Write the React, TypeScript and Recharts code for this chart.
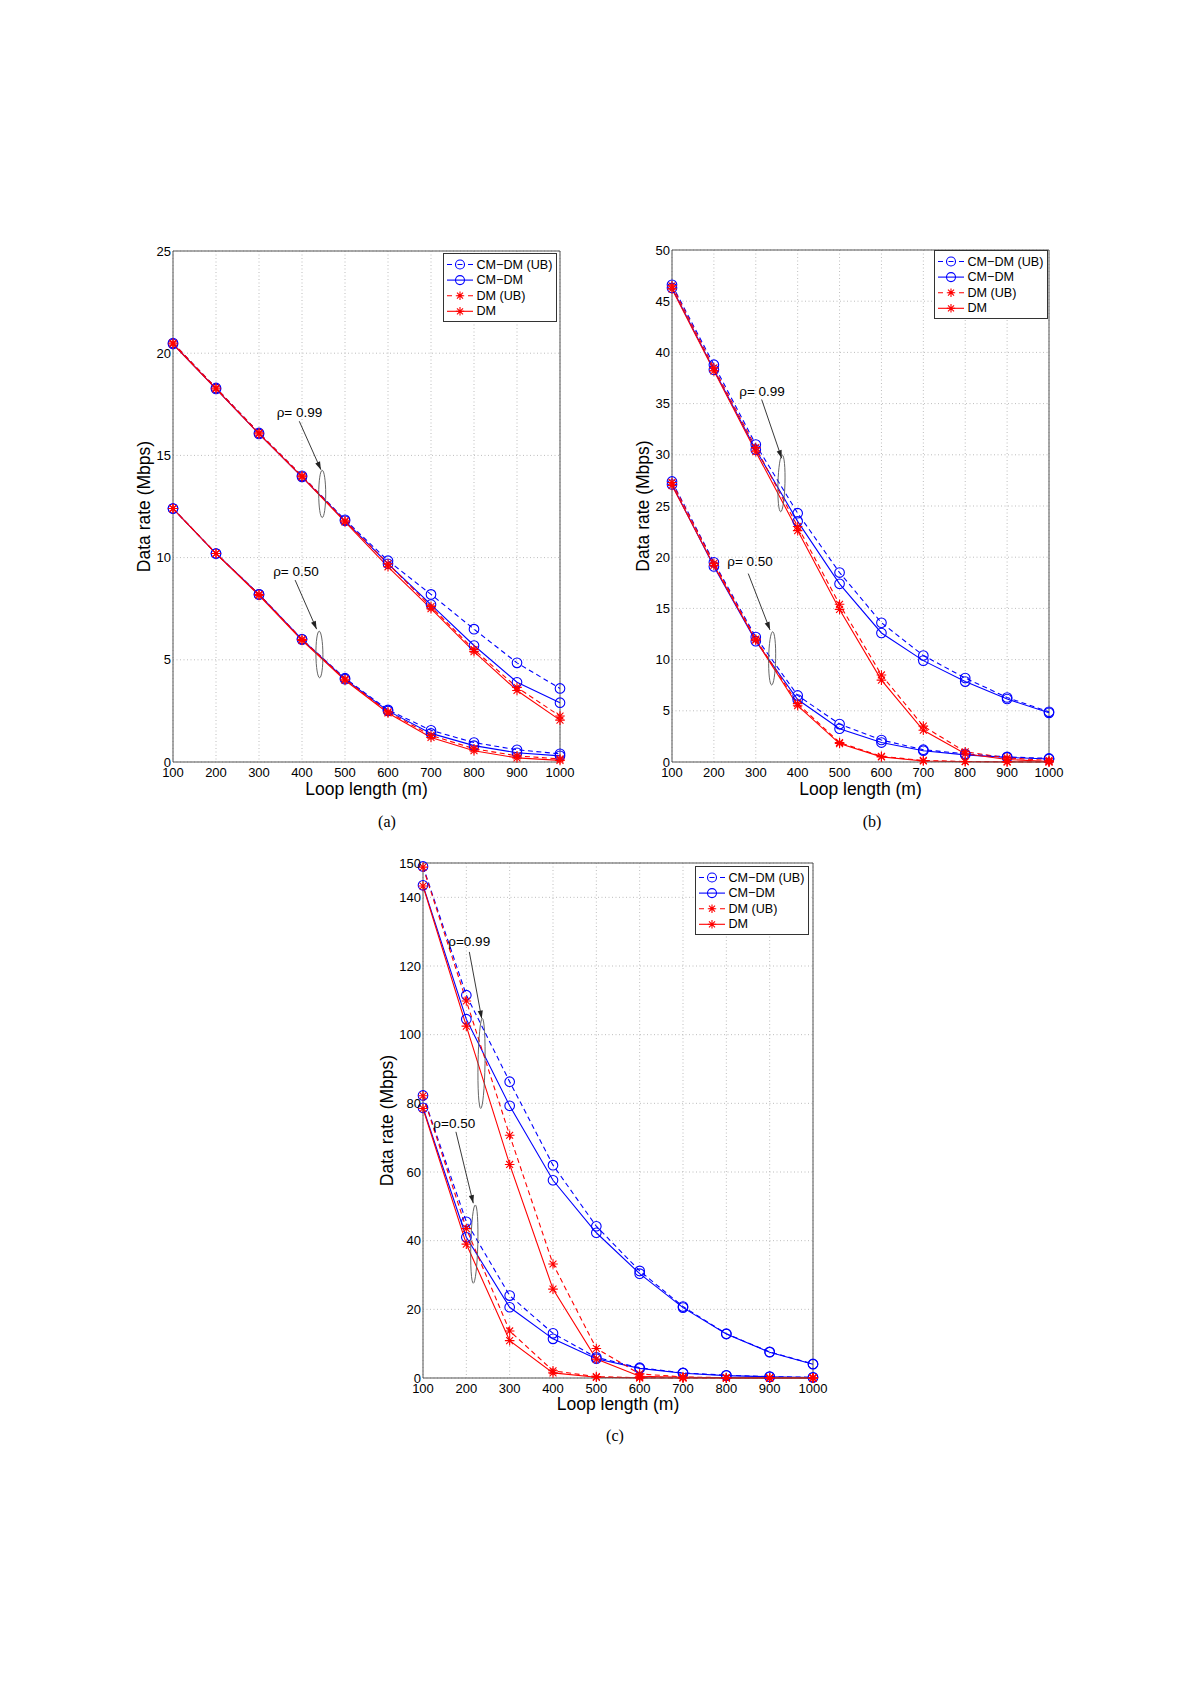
import { LineChart, Line, XAxis, YAxis, CartesianGrid, Legend, ReferenceLine, ReferenceDot } from 'recharts';

const BLUE = '#0000ff';
const RED = '#ff0000';
const FONT = '"Liberation Sans", Arial, sans-serif';

const loopLength = [100, 200, 300, 400, 500, 600, 700, 800, 900, 1000];

// (a)
const aCmdmUb99 = [20.5, 18.3, 16.1, 14.0, 11.85, 9.85, 8.2, 6.5, 4.85, 3.6];
const aCmdm99 = [20.45, 18.25, 16.05, 13.95, 11.8, 9.7, 7.7, 5.7, 3.9, 2.9];
const aDmUb99 = [20.5, 18.3, 16.1, 14.0, 11.8, 9.7, 7.6, 5.5, 3.65, 2.25];
const aDm99 = [20.45, 18.25, 16.05, 13.95, 11.75, 9.55, 7.5, 5.4, 3.5, 2.05];
const aCmdmUb50 = [12.4, 10.2, 8.2, 6.0, 4.1, 2.55, 1.55, 0.95, 0.6, 0.4];
const aCmdm50 = [12.4, 10.2, 8.2, 6.0, 4.05, 2.5, 1.4, 0.8, 0.45, 0.3];
const aDmUb50 = [12.4, 10.2, 8.2, 6.0, 4.05, 2.45, 1.3, 0.65, 0.3, 0.15];
const aDm50 = [12.4, 10.2, 8.15, 5.95, 4.0, 2.4, 1.2, 0.55, 0.2, 0.08];

// (b)
const bCmdmUb99 = [46.6, 38.8, 31.0, 24.3, 18.5, 13.6, 10.4, 8.2, 6.3, 4.9];
const bCmdm99 = [46.3, 38.3, 30.5, 23.5, 17.4, 12.6, 9.9, 7.85, 6.15, 4.8];
const bDmUb99 = [46.5, 38.5, 30.7, 23.0, 15.4, 8.5, 3.5, 1.0, 0.4, 0.15];
const bDm99 = [46.2, 38.2, 30.3, 22.6, 14.9, 8.0, 3.1, 0.8, 0.25, 0.05];
const bCmdmUb50 = [27.4, 19.5, 12.2, 6.5, 3.7, 2.15, 1.2, 0.8, 0.5, 0.35];
const bCmdm50 = [27.1, 19.1, 11.8, 6.1, 3.25, 1.9, 1.1, 0.7, 0.45, 0.3];
const bDmUb50 = [27.3, 19.4, 12.0, 5.7, 1.9, 0.55, 0.15, 0.05, 0.02, 0.01];
const bDm50 = [27.0, 19.2, 11.9, 5.5, 1.8, 0.5, 0.1, 0.03, 0.01, 0.0];

// (c)
const cCmdmUb99 = [149, 111.5, 86.3, 62.0, 44.2, 31.2, 20.8, 12.9, 7.6, 4.1];
const cCmdm99 = [143.5, 104.5, 79.3, 57.6, 42.3, 30.4, 20.5, 12.8, 7.5, 4.0];
const cDmUb99 = [148.8, 109.8, 70.7, 33.2, 8.6, 1.2, 0.3, 0.1, 0.05, 0.02];
const cDm99 = [143.3, 102.5, 62.2, 25.9, 5.5, 0.5, 0.2, 0.05, 0.02, 0.01];
const cCmdmUb50 = [82.3, 45.5, 24.0, 13.0, 6.0, 3.0, 1.5, 0.8, 0.4, 0.2];
const cCmdm50 = [78.7, 41.0, 20.6, 11.4, 5.6, 2.8, 1.4, 0.7, 0.35, 0.15];
const cDmUb50 = [82.2, 43.5, 13.7, 2.1, 0.4, 0.1, 0.03, 0.01, 0.0, 0.0];
const cDm50 = [78.5, 39.0, 10.9, 1.5, 0.2, 0.05, 0.01, 0.0, 0.0, 0.0];

const aTicks = [0, 5, 10, 15, 20, 25];
const bTicks = [0, 5, 10, 15, 20, 25, 30, 35, 40, 45, 50];
const cTicks = [0, 20, 40, 60, 80, 100, 120, 140, 150];

const legendItems = [
  { name: 'CM\u2212DM (UB)', color: BLUE, dashed: true, mark: 'circle' },
  { name: 'CM\u2212DM', color: BLUE, dashed: false, mark: 'circle' },
  { name: 'DM (UB)', color: RED, dashed: true, mark: 'star' },
  { name: 'DM', color: RED, dashed: false, mark: 'star' },
];

// blue drawn first so the red asterisks sit on top
const seriesOrder = [
  { key: 'cmdmUb50', mark: 'circle', dashed: true },
  { key: 'cmdm50', mark: 'circle', dashed: false },
  { key: 'cmdmUb99', mark: 'circle', dashed: true },
  { key: 'cmdm99', mark: 'circle', dashed: false },
  { key: 'dmUb50', mark: 'star', dashed: true },
  { key: 'dm50', mark: 'star', dashed: false },
  { key: 'dmUb99', mark: 'star', dashed: true },
  { key: 'dm99', mark: 'star', dashed: false },
];

function buildRows(s: Record<string, number[]>) {
  return loopLength.map((x, i) => {
    const row: Record<string, number> = { x };
    Object.keys(s).forEach((k) => (row[k] = s[k][i]));
    return row;
  });
}

const rowsA = buildRows({ cmdmUb99: aCmdmUb99, cmdm99: aCmdm99, dmUb99: aDmUb99, dm99: aDm99, cmdmUb50: aCmdmUb50, cmdm50: aCmdm50, dmUb50: aDmUb50, dm50: aDm50 });
const rowsB = buildRows({ cmdmUb99: bCmdmUb99, cmdm99: bCmdm99, dmUb99: bDmUb99, dm99: bDm99, cmdmUb50: bCmdmUb50, cmdm50: bCmdm50, dmUb50: bDmUb50, dm50: bDm50 });
const rowsC = buildRows({ cmdmUb99: cCmdmUb99, cmdm99: cCmdm99, dmUb99: cDmUb99, dm99: cDm99, cmdmUb50: cCmdmUb50, cmdm50: cCmdm50, dmUb50: cDmUb50, dm50: cDm50 });

// annotation text / arrow / ellipse, in data units
const notesA = [
  { text: '\u03c1= 0.99', tx: 341, ty: 16.88, from: [393.7, 16.67], to: [444, 14.3], top: [447, 14.27], bottom: [447, 11.96] },
  { text: '\u03c1= 0.50', tx: 333, ty: 9.09, from: [384, 8.9], to: [434, 6.5], top: [440, 6.4], bottom: [441, 4.12] },
];
const notesB = [
  { text: '\u03c1= 0.99', tx: 260.6, ty: 35.77, from: [314, 35.4], to: [362, 29.66], top: [363.2, 29.98], bottom: [359.4, 24.44] },
  { text: '\u03c1= 0.50', tx: 232, ty: 19.14, from: [282, 18.4], to: [334, 12.9], top: [340.3, 12.72], bottom: [337.9, 7.52] },
];
const notesC = [
  { text: '\u03c1=0.99', tx: 158.4, ty: 125.9, from: [206.9, 124.1], to: [235.5, 104.7], top: [236.9, 104.7], bottom: [233.2, 78.5] },
  { text: '\u03c1=0.50', tx: 123.8, ty: 72.7, from: [176, 71.7], to: [216, 50.9], top: [220.7, 50.4], bottom: [216.1, 27.6] },
];

const CircleDot = (p: any) => {
  if (p.cx == null || p.cy == null) return <g key={p.index} />;
  return <circle key={p.index} cx={p.cx} cy={p.cy} r={4.8} fill="none" stroke={BLUE} strokeWidth={1.1} />;
};

function starPath(cx: number, cy: number, s: number) {
  const d = s * 0.72;
  return `M${cx - s},${cy}L${cx + s},${cy}M${cx},${cy - s}L${cx},${cy + s}M${cx - d},${cy - d}L${cx + d},${cy + d}M${cx - d},${cy + d}L${cx + d},${cy - d}`;
}

const StarDot = (p: any) => {
  if (p.cx == null || p.cy == null) return <g key={p.index} />;
  return <path key={p.index} d={starPath(p.cx, p.cy, 4.8)} stroke={RED} strokeWidth={1.1} fill="none" />;
};

const Arrow = (p: any) => {
  const { x1, y1, x2, y2 } = p;
  const a = Math.atan2(y2 - y1, x2 - x1);
  const bx = x2 - 8 * Math.cos(a);
  const by = y2 - 8 * Math.sin(a);
  const px = -Math.sin(a) * 2.6;
  const py = Math.cos(a) * 2.6;
  return (
    <g>
      <line x1={x1} y1={y1} x2={x2} y2={y2} stroke="#222" strokeWidth={0.9} />
      <polygon points={`${x2},${y2} ${bx + px},${by + py} ${bx - px},${by - py}`} fill="#222" />
    </g>
  );
};

const Oval = (p: any) => {
  const cx = (p.x1 + p.x2) / 2;
  const cy = (p.y1 + p.y2) / 2;
  const ry = Math.hypot(p.x2 - p.x1, p.y2 - p.y1) / 2;
  const ang = (Math.atan2(p.y2 - p.y1, p.x2 - p.x1) * 180) / Math.PI - 90;
  return <ellipse cx={cx} cy={cy} rx={3.5} ry={ry} transform={`rotate(${ang} ${cx} ${cy})`} fill="none" stroke="#555" strokeWidth={0.9} />;
};

function LegendBox() {
  return (
    <div style={{ width: 114, height: 69, border: '1px solid #333', background: '#fff', boxSizing: 'border-box', fontFamily: FONT }}>
      <svg width={112} height={67} style={{ display: 'block' }}>
        {legendItems.map((it, i) => {
          const y = 10.5 + i * 15.6;
          return (
            <g key={it.name}>
              <line x1={3} y1={y} x2={29} y2={y} stroke={it.color} strokeWidth={1.1} strokeDasharray={it.dashed ? '5 5.5' : undefined} />
              {it.mark === 'circle' ? (
                <circle cx={16} cy={y} r={4.5} fill="none" stroke={BLUE} strokeWidth={1.1} />
              ) : (
                <path d={starPath(16, y, 4.2)} stroke={RED} strokeWidth={1.1} fill="none" />
              )}
              <text x={32.5} y={y} dominantBaseline="central" fontSize={12.6} fill="#000">
                {it.name}
              </text>
            </g>
          );
        })}
      </svg>
    </div>
  );
}

function Panel(props: any) {
  const { plotLeft, plotTop, plotW, plotH, yMax, yTicks, rows, notes, legendLeft, legendTop, yLabelOffset, xAxisHeight } = props;
  const left = plotLeft - 80;
  const top = plotTop - 12;
  return (
    <div style={{ position: 'absolute', left, top, fontFamily: FONT }}>
      <LineChart width={plotW + 100} height={plotH + 52} data={rows} margin={{ top: 12, right: 20, bottom: 40 - xAxisHeight, left: 40 }}>
        <CartesianGrid stroke="#bdbdbd" strokeDasharray="1 2.5" />
        <XAxis
          type="number"
          dataKey="x"
          domain={[100, 1000]}
          ticks={loopLength}
          interval={0}
          height={xAxisHeight}
          tickLine={false}
          tickSize={0}
          tickMargin={6}
          axisLine={{ stroke: '#555' }}
          tick={{ fontSize: 13, fill: '#000' }}
          label={{ value: 'Loop length (m)', position: 'insideBottom', offset: 0, fontSize: 17.5, fill: '#000' }}
        />
        <YAxis
          type="number"
          domain={[0, yMax]}
          ticks={yTicks}
          interval={0}
          width={40}
          tickLine={false}
          tickSize={0}
          tickMargin={2}
          axisLine={{ stroke: '#555' }}
          tick={{ fontSize: 13, fill: '#000' }}
          label={{ value: 'Data rate (Mbps)', angle: -90, position: 'insideLeft', offset: yLabelOffset, fontSize: 17.5, fill: '#000', style: { textAnchor: 'middle' } }}
        />
        <ReferenceLine y={yMax} stroke="#555" />
        <ReferenceLine x={1000} stroke="#555" />
        {seriesOrder.map((s) => (
          <Line
            key={s.key}
            type="linear"
            dataKey={s.key}
            stroke={s.mark === 'circle' ? BLUE : RED}
            strokeWidth={1.1}
            strokeDasharray={s.dashed ? '5 3.5' : undefined}
            dot={s.mark === 'circle' ? CircleDot : StarDot}
            activeDot={false}
            isAnimationActive={false}
          />
        ))}
        {notes.map((n: any, i: number) => (
          <ReferenceLine key={'a' + i} segment={[{ x: n.from[0], y: n.from[1] }, { x: n.to[0], y: n.to[1] }]} shape={Arrow} />
        ))}
        {notes.map((n: any, i: number) => (
          <ReferenceLine key={'o' + i} segment={[{ x: n.top[0], y: n.top[1] }, { x: n.bottom[0], y: n.bottom[1] }]} shape={Oval} />
        ))}
        {notes.map((n: any, i: number) => (
          <ReferenceDot
            key={'t' + i}
            x={n.tx}
            y={n.ty}
            r={0}
            shape={(p: any) => (
              <text x={p.cx} y={p.cy} fontSize={13.5} fill="#000">
                {n.text}
              </text>
            )}
          />
        ))}
        <Legend
          verticalAlign="middle"
          align="center"
          layout="horizontal"
          wrapperStyle={{ left: legendLeft - left, top: legendTop - top, width: 114, height: 69 }}
          content={() => <LegendBox />}
        />
      </LineChart>
    </div>
  );
}

function Caption({ x, y, text }: { x: number; y: number; text: string }) {
  return (
    <div style={{ position: 'absolute', left: x - 30, top: y - 10, width: 60, height: 20, lineHeight: '20px', textAlign: 'center', fontFamily: '"Liberation Serif", serif', fontSize: 16 }}>
      {text}
    </div>
  );
}

export default function App() {
  return (
    <div style={{ position: 'absolute', left: 0, top: 0, width: 1200, height: 1695, background: '#fff' }}>
      <Panel plotLeft={173} plotTop={251} plotW={387} plotH={511} yMax={25} yTicks={aTicks} rows={rowsA} notes={notesA} legendLeft={443} legendTop={253} yLabelOffset={10.7} xAxisHeight={33} />
      <Panel plotLeft={672} plotTop={250} plotW={377} plotH={512} yMax={50} yTicks={bTicks} rows={rowsB} notes={notesB} legendLeft={934} legendTop={250} yLabelOffset={11} xAxisHeight={33} />
      <Panel plotLeft={423} plotTop={863} plotW={390} plotH={515} yMax={150} yTicks={cTicks} rows={rowsC} notes={notesC} legendLeft={695} legendTop={866} yLabelOffset={3.7} xAxisHeight={32} />
      <Caption x={387} y={822} text="(a)" />
      <Caption x={872} y={822} text="(b)" />
      <Caption x={615} y={1436} text="(c)" />
    </div>
  );
}
